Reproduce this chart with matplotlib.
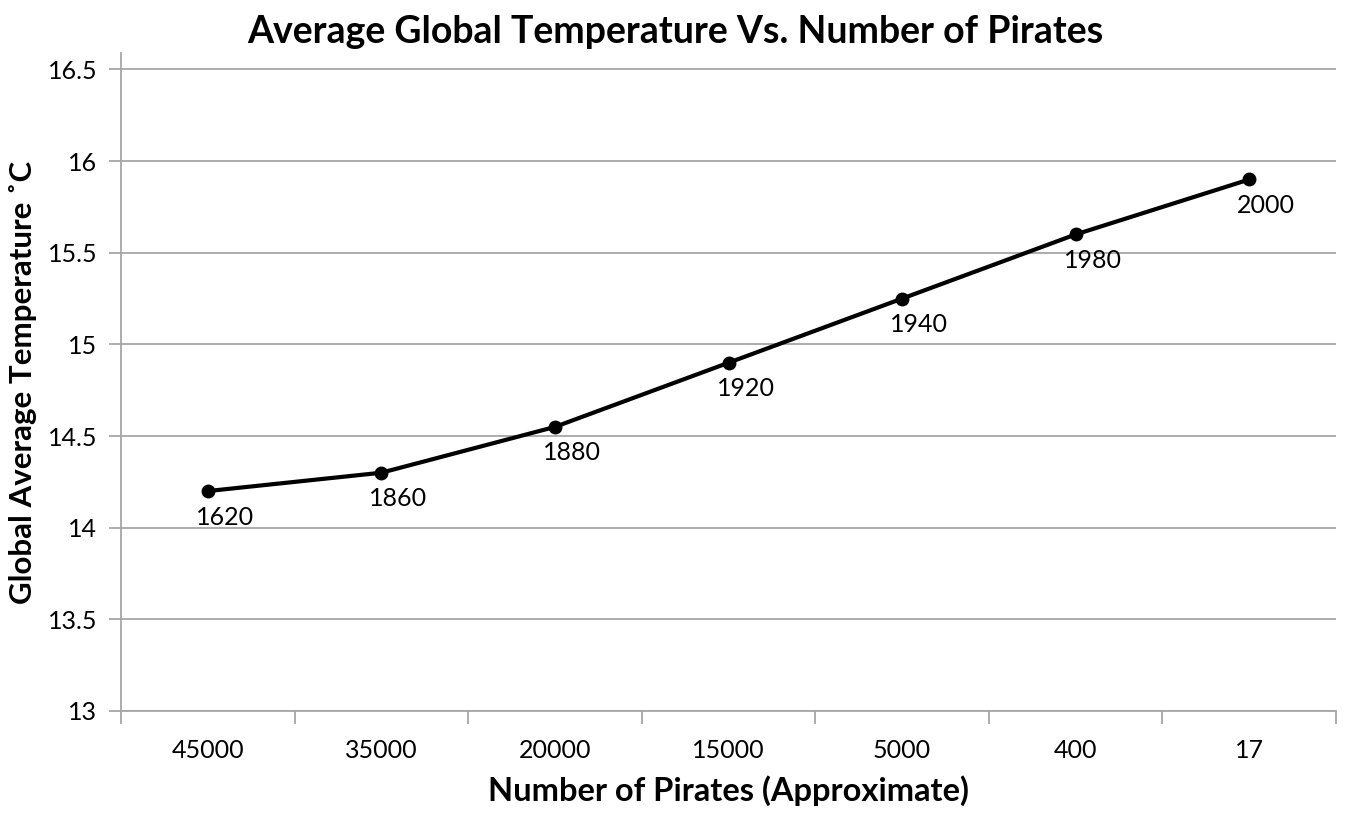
import matplotlib.pyplot as plt

plt.rcParams['font.family'] = ['Lato', 'DejaVu Sans']

# --- Chart data ---
pirates = ['45000', '35000', '20000', '15000', '5000', '400', '17']
temperature = [14.2, 14.3, 14.55, 14.9, 15.25, 15.6, 15.9]
years = ['1620', '1860', '1880', '1920', '1940', '1980', '2000']
y_ticks = [13, 13.5, 14, 14.5, 15, 15.5, 16, 16.5]

fig = plt.figure(figsize=(13.5, 8.15), dpi=100)
ax = fig.add_axes([121 / 1350, 1 - 711 / 815, (1336 - 121) / 1350, (711 - 53) / 815])

x = list(range(len(pirates)))
ax.plot(x, temperature, color='black', lw=3, marker='o', ms=9, zorder=3)

# year labels sit just below/right of each point
for xi, yi, lab in zip(x, temperature, years):
    ax.annotate(lab, (xi, yi), xytext=(17, -26), textcoords='offset pixels',
                ha='center', va='center', fontsize=18, color='black')

ax.set_xlim(-0.5, len(pirates) - 0.5)
ax.set_ylim(13, 16.59)
ax.set_yticks(y_ticks)
ax.set_yticklabels([f'{v:g}' for v in y_ticks])
ax.set_xticks(x)
ax.set_xticklabels(pirates)
ax.set_xticks([i - 0.5 for i in range(len(pirates) + 1)], minor=True)

ax.grid(axis='y', color='#a6a6a6', lw=1.3)
ax.set_axisbelow(True)
for side in ['top', 'right']:
    ax.spines[side].set_visible(False)
for side in ['left', 'bottom']:
    ax.spines[side].set_color('#a6a6a6')
    ax.spines[side].set_linewidth(1.3)

ax.tick_params(axis='y', length=9, width=1.3, color='#a6a6a6', labelsize=18, pad=8)
ax.tick_params(axis='x', which='major', length=0, labelsize=18, pad=20)
ax.tick_params(axis='x', which='minor', length=9, width=1.3, color='#a6a6a6')

ax.set_xlabel('Number of Pirates (Approximate)', fontsize=23.5, fontweight='bold', labelpad=10)
ax.set_ylabel('Global Average Temperature \u02daC', fontsize=22.5, fontweight='bold', labelpad=8)
fig.suptitle('Average Global Temperature Vs. Number of Pirates', fontsize=27,
             fontweight='bold', x=675 / 1350, y=1 - 32 / 815, va='center')

fig.savefig('out.png', dpi=100)
